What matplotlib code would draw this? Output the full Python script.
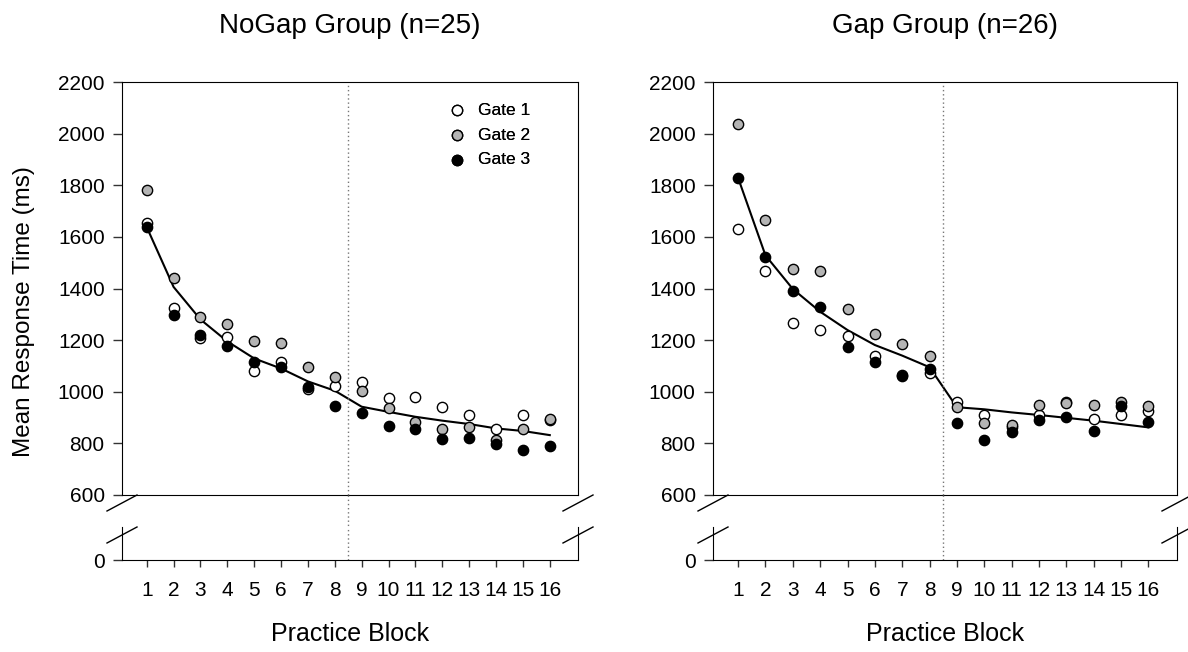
import matplotlib.pyplot as plt
from matplotlib.lines import Line2D

plt.rcParams['font.family'] = ['Liberation Sans', 'DejaVu Sans']

blocks = list(range(1, 17))
split_block = 8.5

# NoGap group (n=25)
nogap_g1 = [1655, 1325, 1210, 1214, 1079, 1116, 1009, 1023, 1039, 974, 981, 942, 910, 854, 910, 890]
nogap_g2 = [1781, 1439, 1288, 1261, 1197, 1187, 1097, 1056, 1003, 938, 884, 854, 864, 813, 855, 894]
nogap_g3 = [1638, 1297, 1219, 1176, 1115, 1097, 1018, 946, 916, 867, 854, 816, 822, 796, 774, 790]
nogap_fit = [1638, 1406, 1280, 1195, 1129, 1090, 1040, 1004, 942, 922, 903, 888, 875, 858, 848, 832]

# Gap group (n=26)
gap_g1 = [1629, 1467, 1265, 1239, 1217, 1138, 1063, 1072, 961, 910, 864, 910, 961, 893, 910, 925]
gap_g2 = [2039, 1665, 1475, 1467, 1321, 1222, 1185, 1140, 942, 878, 871, 948, 957, 948, 961, 944]
gap_g3 = [1828, 1523, 1392, 1329, 1174, 1115, 1061, 1090, 880, 813, 845, 890, 903, 848, 945, 884]
gap_fit = [1828, 1528, 1398, 1310, 1239, 1181, 1140, 1095, 940, 932, 920, 910, 899, 888, 875, 862]

titles = ["NoGap Group (n=25)", "Gap Group (n=26)"]
yticks = list(range(600, 2201, 200))

W, H = 1188, 652
fig = plt.figure(figsize=(W / 100, H / 100), dpi=100)

def px(x0, x1, y_top, y_bot):
    return [x0 / W, 1 - y_bot / H, (x1 - x0) / W, (y_bot - y_top) / H]

def panel(x0, x1, g1, g2, g3, fit, title):
    top = fig.add_axes(px(x0, x1, 82, 495))
    low = fig.add_axes(px(x0, x1, 527, 560))

    top.plot(blocks, fit, color='black', lw=1.5, zorder=2)
    top.scatter(blocks, g1, s=55, facecolor='white', edgecolor='black', lw=1, zorder=3, label='Gate 1')
    top.scatter(blocks, g2, s=55, facecolor='#b4b4b4', edgecolor='black', lw=1, zorder=4, label='Gate 2')
    top.scatter(blocks, g3, s=55, facecolor='black', edgecolor='black', lw=1, zorder=5, label='Gate 3')

    for ax in (top, low):
        ax.set_xlim(0.08, 17.05)
        ax.axvline(split_block, color='#777777', ls=(0, (1, 2)), lw=1)
        ax.tick_params(direction='out', length=6.5, width=1, color='#333333', labelsize=15, pad=6)
    top.set_ylim(600, 2200)
    top.set_yticks(yticks)
    top.set_xticks([])
    low.set_ylim(0, 100)
    low.set_yticks([0])
    low.set_xticks(blocks)
    low.tick_params(axis='x', length=5, pad=10)
    low.spines['top'].set_visible(False)

    top.legend(loc='upper left', bbox_to_anchor=((438 - x0) / (x1 - x0), 1 - 12 / 413),
               frameon=False, fontsize=12.5, handletextpad=0.6, labelspacing=0.55,
               borderpad=0, handlelength=1.2)

    # dotted divider through the break gap
    xd = top.transData.transform((split_block, 0))[0] / W
    fig.add_artist(Line2D([xd, xd], [1 - 495 / H, 1 - 527 / H], transform=fig.transFigure,
                          color='#777777', ls=(0, (1, 2)), lw=1))

    # break marks on both spines
    for xs in (x0, x1):
        for yb in (495, 527):
            fig.add_artist(Line2D([(xs - 15) / W, (xs + 15) / W], [1 - (yb + 16) / H, 1 - yb / H],
                                  transform=fig.transFigure, color='black', lw=1))

    cx = (x0 + x1) / 2 / W
    fig.text(cx, 1 - 26 / H, title, ha='center', va='center', fontsize=20)
    fig.text(cx, 1 - 634 / H, "Practice Block", ha='center', va='center', fontsize=18)

panel(122, 578, nogap_g1, nogap_g2, nogap_g3, nogap_fit, titles[0])
panel(713, 1177, gap_g1, gap_g2, gap_g3, gap_fit, titles[1])

fig.text(24 / W, 1 - 312 / H, "Mean Response Time (ms)", rotation=90, ha='center', va='center', fontsize=17.5)

fig.savefig("out.png", dpi=100)
